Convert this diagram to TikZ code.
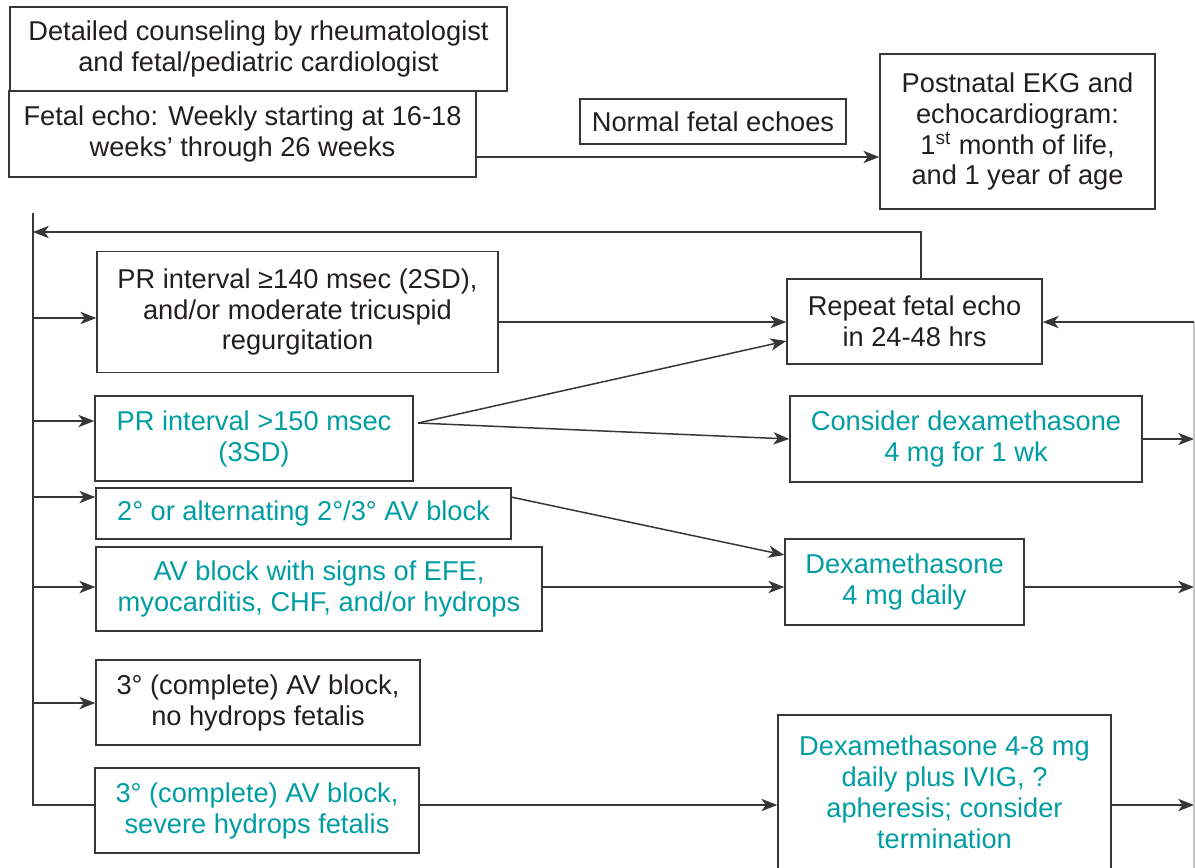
\documentclass[tikz,border=0pt]{standalone}
\usepackage{fontspec}
\setmainfont{Liberation Sans}
\usetikzlibrary{arrows.meta}
\definecolor{tealtxt}{RGB}{0,158,163}
\definecolor{inkc}{RGB}{35,31,32}
\definecolor{edgec}{RGB}{55,55,55}
\begin{document}
\begin{tikzpicture}[x=0.02cm,y=-0.02cm,
  box/.style={draw=edgec, line width=0.9pt, align=center, inner sep=0pt, text=inkc,
    font=\fontsize{15.5}{17.6}\selectfont},
  tbox/.style={box, text=tealtxt},
  conn/.style={draw=edgec, line width=0.85pt},
  arr/.style={conn, -{Stealth[length=9pt,width=7pt,inset=2.5pt]}},
  rline/.style={draw=gray!45, line width=0.8pt}]
\useasboundingbox (0,0) rectangle (1195,867);
\fill[white] (0,0) rectangle (1195,867);

% nodes
\node[box, minimum width=9.94cm, minimum height=1.68cm] (counsel) at (258.5,49)
  {Detailed counseling by rheumatologist\\and fetal/pediatric cardiologist};
\node[box, minimum width=9.34cm, minimum height=1.72cm] (fetal) at (242.5,134)
  {Fetal echo: Weekly starting at 16-18\\weeks’ through 26 weeks};
\node[box, minimum width=5.32cm, minimum height=0.90cm] (normal) at (713,121.5)
  {Normal fetal echoes};
\node[box, minimum width=5.50cm, minimum height=3.10cm] (postnatal) at (1017.5,131.5)
  {Postnatal EKG and\\echocardiogram:\\1\textsuperscript{st} month of life,\\and 1 year of age};
\node[box, minimum width=8.02cm, minimum height=2.42cm] (pr140) at (297.5,312)
  {PR interval ≥140 msec (2SD),\\and/or moderate tricuspid\\regurgitation};
\node[tbox, minimum width=6.36cm, minimum height=1.70cm] (pr150) at (254,438.5)
  {PR interval >150 msec\\(3SD)};
\node[tbox, minimum width=8.30cm, minimum height=1.02cm] (deg2) at (303.5,513.5)
  {2° or alternating 2°/3° AV block};
\node[tbox, minimum width=8.92cm, minimum height=1.68cm] (efe) at (319,589)
  {AV block with signs of EFE,\\myocarditis, CHF, and/or hydrops};
\node[box, minimum width=6.48cm, minimum height=1.70cm] (no3) at (258,702.5)
  {3° (complete) AV block,\\no hydrops fetalis};
\node[tbox, minimum width=6.48cm, minimum height=1.70cm] (sev3) at (257,810.5)
  {3° (complete) AV block,\\severe hydrops fetalis};
\node[box, minimum width=5.10cm, minimum height=1.70cm] (repeat) at (914.5,321.5)
  {Repeat fetal echo\\in 24-48 hrs};
\node[tbox, minimum width=7.04cm, minimum height=1.72cm] (consider) at (966,439)
  {Consider dexamethasone\\4 mg for 1 wk};
\node[tbox, minimum width=4.78cm, minimum height=1.72cm] (dex4) at (904.5,582)
  {Dexamethasone\\4 mg daily};
\node[tbox, minimum width=6.66cm, minimum height=3.08cm] (dex48) at (944.5,792)
  {Dexamethasone 4-8 mg\\daily plus IVIG, ?\\apheresis; consider\\termination};

% helper coordinates
\coordinate (Ltop) at (33,213);
\coordinate (Lbot) at (33,805);
\coordinate (Rtop) at (1194,322);
\coordinate (Rbot) at (1194,870);
\coordinate (yA) at (0,157);
\coordinate (yB) at (0,232);
\coordinate (yC) at (0,318);
\coordinate (yD) at (0,322);
\coordinate (yE) at (0,421);
\coordinate (yG) at (0,341);
\coordinate (yH) at (0,439);
\coordinate (yI) at (0,497);
\coordinate (yJ) at (0,555);
\coordinate (yK) at (0,587);
\coordinate (yL) at (0,703);
\coordinate (yM) at (0,805);
\coordinate (rx) at (921,0);
\coordinate (p150o) at (418,423);
\coordinate (d2o) at (511,497);

% connectors
\draw[arr] (fetal.east |- yA) -- (postnatal.west |- yA);
\draw[arr] (rx |- repeat.north) -- (rx |- yB) -- (Ltop |- yB);
\draw[conn] (Ltop) -- (Lbot) -- (sev3.west |- Lbot);
\draw[arr] (Ltop |- yC) -- (pr140.west |- yC);
\draw[arr] (Ltop |- yE) -- (pr150.west |- yE);
\draw[arr] (Ltop |- yI) -- (deg2.west |- yI);
\draw[arr] (Ltop |- yK) -- (efe.west |- yK);
\draw[arr] (Ltop |- yL) -- (no3.west |- yL);
\draw[arr] (pr140.east |- yD) -- (repeat.west |- yD);
\draw[arr] (p150o) -- (repeat.west |- yG);
\draw[arr] (p150o) -- (consider.west |- yH);
\draw[arr] (d2o) -- (dex4.west |- yJ);
\draw[arr] (efe.east |- yK) -- (dex4.west |- yK);
\draw[arr] (consider.east |- yH) -- (Rtop |- yH);
\draw[arr] (dex4.east |- yK) -- (Rtop |- yK);
\draw[arr] (sev3.east |- yM) -- (dex48.west |- yM);
\draw[arr] (dex48.east |- yM) -- (Rtop |- yM);
\draw[rline] (Rtop) -- (Rbot);
\draw[arr] (Rtop) -- (repeat.east |- Rtop);
\end{tikzpicture}
\end{document}
